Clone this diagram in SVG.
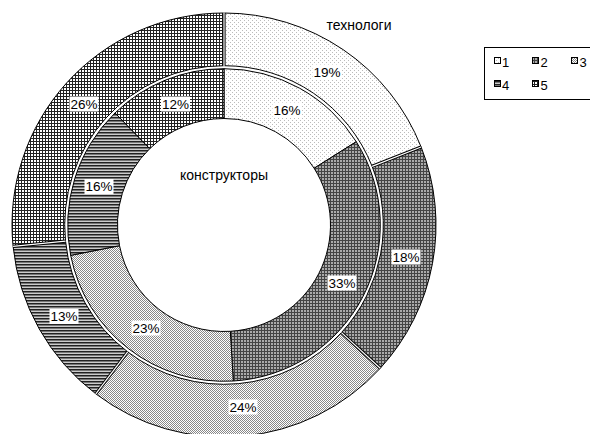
<svg xmlns="http://www.w3.org/2000/svg" width="590" height="434" viewBox="0 0 590 434">
<style>
.seg{stroke:#000;stroke-width:1;stroke-linejoin:round}
.lbl{font-family:"Liberation Sans",Arial,sans-serif;font-size:13.5px;fill:#000;text-anchor:middle}
.ser{font-family:"Liberation Sans",Arial,sans-serif;font-size:14px;fill:#000;text-anchor:middle}
.box{fill:#fff}
.leg{font-family:"Liberation Sans",Arial,sans-serif;font-size:13px;fill:#000}
.sw{stroke:#000;stroke-width:1}
.sepB{stroke:#000;stroke-width:3.2}
.sepW{stroke:#fff;stroke-width:1.2}
</style>
<defs>
<pattern id="p1" patternUnits="userSpaceOnUse" width="4" height="4">
<rect width="4" height="4" fill="#fff"/><rect x="0" y="0" width="1" height="1" fill="#bbb"/><rect x="2" y="2" width="1" height="1" fill="#bbb"/>
</pattern>
<pattern id="p2" patternUnits="userSpaceOnUse" width="3" height="3">
<rect width="3" height="3" fill="#444"/><rect x="1" y="1" width="2" height="2" fill="#aaa"/>
</pattern>
<pattern id="p3" patternUnits="userSpaceOnUse" width="2" height="2">
<rect width="2" height="2" fill="#fff"/><rect x="0" y="0" width="1" height="1" fill="#888"/><rect x="1" y="1" width="1" height="1" fill="#888"/>
</pattern>
<pattern id="p4" patternUnits="userSpaceOnUse" width="3" height="3">
<rect width="3" height="1" y="0" fill="#222"/><rect width="3" height="1" y="1" fill="#777"/><rect width="3" height="1" y="2" fill="#ccc"/>
</pattern>
<pattern id="p5" patternUnits="userSpaceOnUse" width="3" height="3">
<rect width="3" height="3" fill="#222"/><rect x="1" y="1" width="2" height="2" fill="#fff"/>
</pattern>
</defs>
<rect width="590" height="434" fill="#fff"/>

<g id="ring-outer">
<g id="o1"><path class="seg" fill="url(#p1)" d="M224,13 A212,212 0 0,1 421.11,146.96 L372.11,166.36 A159.3,159.3 0 0,0 224,65.7 Z"/></g>
<g id="o2"><path class="seg" fill="url(#p2)" d="M421.11,146.96 A212,212 0 0,1 380.30,368.22 L341.45,332.62 A159.3,159.3 0 0,0 372.11,166.36 Z"/></g>
<g id="o3"><path class="seg" fill="url(#p3)" d="M380.30,368.22 A212,212 0 0,1 95.82,393.86 L127.69,351.89 A159.3,159.3 0 0,0 341.45,332.62 Z"/></g>
<g id="o4"><path class="seg" fill="url(#p4)" d="M95.82,393.86 A212,212 0 0,1 13.09,246.42 L65.52,241.10 A159.3,159.3 0 0,0 127.69,351.89 Z"/></g>
<g id="o5"><path class="seg" fill="url(#p5)" d="M13.09,246.42 A212,212 0 0,1 224,13 L224,65.7 A159.3,159.3 0 0,0 65.52,241.10 Z"/></g>
<g id="outer-separators">
<line class="sepB" x1="224" y1="65.7" x2="224" y2="13"/>
<line class="sepB" x1="372.11" y1="166.36" x2="421.11" y2="146.96"/>
<line class="sepB" x1="341.45" y1="332.62" x2="380.30" y2="368.22"/>
<line class="sepB" x1="127.69" y1="351.89" x2="95.82" y2="393.86"/>
<line class="sepB" x1="65.52" y1="241.10" x2="13.09" y2="246.42"/>
<line class="sepW" x1="224" y1="66.5" x2="224" y2="12.5"/>
<line class="sepW" x1="372.11" y1="166.36" x2="421.11" y2="146.96"/>
<line class="sepW" x1="341.45" y1="332.62" x2="380.30" y2="368.22"/>
<line class="sepW" x1="127.69" y1="351.89" x2="95.82" y2="393.86"/>
<line class="sepW" x1="65.52" y1="241.10" x2="13.09" y2="246.42"/>
</g>
</g>

<g id="ring-inner">
<g id="i1"><path class="seg" fill="url(#p1)" d="M224,68.7 A156.3,156.3 0 0,1 356.26,141.71 L314.12,168.25 A106.5,106.5 0 0,0 224,118.5 Z"/></g>
<g id="i2"><path class="seg" fill="url(#p2)" d="M356.26,141.71 A156.3,156.3 0 0,1 233.27,381.02 L230.32,331.31 A106.5,106.5 0 0,0 314.12,168.25 Z"/></g>
<g id="i3"><path class="seg" fill="url(#p3)" d="M233.27,381.02 A156.3,156.3 0 0,1 70.67,255.35 L119.52,245.68 A106.5,106.5 0 0,0 230.32,331.31 Z"/></g>
<g id="i4"><path class="seg" fill="url(#p4)" d="M70.67,255.35 A156.3,156.3 0 0,1 115.03,112.95 L149.75,148.65 A106.5,106.5 0 0,0 119.52,245.68 Z"/></g>
<g id="i5"><path class="seg" fill="url(#p5)" d="M115.03,112.95 A156.3,156.3 0 0,1 224,68.7 L224,118.5 A106.5,106.5 0 0,0 149.75,148.65 Z"/></g>
</g>

<g id="labels">
<g id="lbl-o1"><rect class="box" x="312.5" y="64.5" width="29" height="15"/><text class="lbl" x="327" y="76.5">19%</text></g>
<g id="lbl-o2"><rect class="box" x="391.5" y="249.5" width="29" height="15"/><text class="lbl" x="406" y="261.5">18%</text></g>
<g id="lbl-o3"><rect class="box" x="228.5" y="399.5" width="29" height="15"/><text class="lbl" x="243" y="411.5">24%</text></g>
<g id="lbl-o4"><rect class="box" x="49.5" y="309" width="29" height="15"/><text class="lbl" x="64" y="321">13%</text></g>
<g id="lbl-o5"><rect class="box" x="69.5" y="96.5" width="29" height="15"/><text class="lbl" x="84" y="108.5">26%</text></g>
<g id="lbl-i1"><rect class="box" x="272.5" y="102.5" width="29" height="15"/><text class="lbl" x="287" y="114.5">16%</text></g>
<g id="lbl-i2"><rect class="box" x="327.5" y="275.5" width="29" height="15"/><text class="lbl" x="342" y="287.5">33%</text></g>
<g id="lbl-i3"><rect class="box" x="131.5" y="320.5" width="29" height="15"/><text class="lbl" x="146" y="332.5">23%</text></g>
<g id="lbl-i4"><rect class="box" x="84.5" y="179" width="29" height="15"/><text class="lbl" x="99" y="191">16%</text></g>
<g id="lbl-i5"><rect class="box" x="161" y="96.5" width="29" height="15"/><text class="lbl" x="175.5" y="108.5">12%</text></g>
<g id="series-outer"><text class="ser" x="359" y="30">технологи</text></g>
<g id="series-inner"><text class="ser" x="224" y="180">конструкторы</text></g>
</g>

<g id="legend">
<rect x="484.5" y="47.5" width="110" height="52" fill="#fff" stroke="#000" stroke-width="1"/>
<g id="leg1"><rect class="sw" x="494.5" y="57.5" width="6" height="6" fill="url(#p1)"/><text class="leg" x="502" y="66.5">1</text></g>
<g id="leg2"><rect class="sw" x="532.5" y="57.5" width="6" height="6" fill="url(#p2)"/><text class="leg" x="540.5" y="66.5">2</text></g>
<g id="leg3"><rect class="sw" x="571.5" y="57.5" width="6" height="6" fill="url(#p3)"/><text class="leg" x="579.5" y="66.5">3</text></g>
<g id="leg4"><rect class="sw" x="494.5" y="80.5" width="6" height="6" fill="url(#p4)"/><text class="leg" x="502" y="89.5">4</text></g>
<g id="leg5"><rect class="sw" x="532.5" y="80.5" width="6" height="6" fill="url(#p5)"/><text class="leg" x="540.5" y="89.5">5</text></g>
</g>
</svg>
